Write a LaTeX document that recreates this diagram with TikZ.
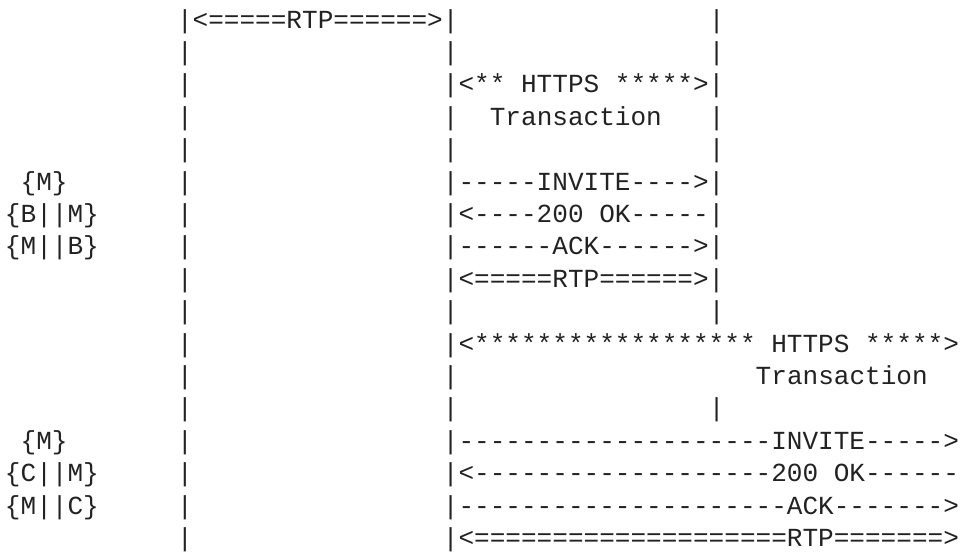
\documentclass[tikz,border=0pt]{standalone}
\usepackage{fontspec}
\setmonofont{Liberation Mono}
\definecolor{ink}{RGB}{34,34,34}
\newcommand\asc[4]{\node[txt] (#1) at ({5+#2*15.64},{28+#3*32.4}) {#4};}
\begin{document}
\begin{tikzpicture}[x=1pt,y=-1pt,
  txt/.style={anchor=base west, inner sep=0pt, outer sep=0pt, text=ink,
    font=\ttfamily\fontsize{26.06pt}{32pt}\selectfont\frenchspacing}]
\useasboundingbox (0,0) rectangle (963,552);
% row 0
\asc{a0}{11}{0}{|<=====RTP======>|}
\asc{c0}{45}{0}{|}
% row 1
\asc{a1}{11}{1}{|}
\asc{b1}{28}{1}{|}
\asc{c1}{45}{1}{|}
% row 2
\asc{a2}{11}{2}{|}
\asc{b2}{28}{2}{|<** HTTPS *****>|}
% row 3
\asc{a3}{11}{3}{|}
\asc{b3}{28}{3}{|}
\asc{t3}{31}{3}{Transaction}
\asc{c3}{45}{3}{|}
% row 4
\asc{a4}{11}{4}{|}
\asc{b4}{28}{4}{|}
\asc{c4}{45}{4}{|}
% row 5
\asc{m5}{1}{5}{\{M\}}
\asc{a5}{11}{5}{|}
\asc{b5}{28}{5}{|-----INVITE---->|}
% row 6
\asc{m6}{0}{6}{\{B||M\}}
\asc{a6}{11}{6}{|}
\asc{b6}{28}{6}{|<----200 OK-----|}
% row 7
\asc{m7}{0}{7}{\{M||B\}}
\asc{a7}{11}{7}{|}
\asc{b7}{28}{7}{|------ACK------>|}
% row 8
\asc{a8}{11}{8}{|}
\asc{b8}{28}{8}{|<=====RTP======>|}
% row 9
\asc{a9}{11}{9}{|}
\asc{b9}{28}{9}{|}
\asc{c9}{45}{9}{|}
% row 10
\asc{a10}{11}{10}{|}
\asc{b10}{28}{10}{|<****************** HTTPS *****>}
% row 11
\asc{a11}{11}{11}{|}
\asc{b11}{28}{11}{|}
\asc{t11}{48}{11}{Transaction}
% row 12
\asc{a12}{11}{12}{|}
\asc{b12}{28}{12}{|}
\asc{c12}{45}{12}{|}
% row 13
\asc{m13}{1}{13}{\{M\}}
\asc{a13}{11}{13}{|}
\asc{b13}{28}{13}{|--------------------INVITE----->}
% row 14
\asc{m14}{0}{14}{\{C||M\}}
\asc{a14}{11}{14}{|}
\asc{b14}{28}{14}{|<-------------------200 OK------}
% row 15
\asc{m15}{0}{15}{\{M||C\}}
\asc{a15}{11}{15}{|}
\asc{b15}{28}{15}{|---------------------ACK------->}
% row 16
\asc{a16}{11}{16}{|}
\asc{b16}{28}{16}{|<====================RTP=======>}
\end{tikzpicture}
\end{document}
